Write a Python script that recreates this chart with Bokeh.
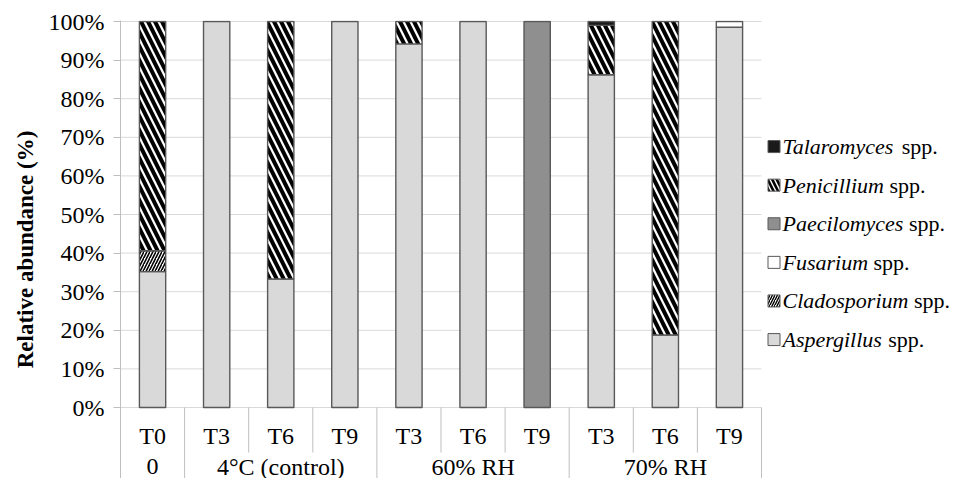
import numpy as np
from bokeh.plotting import figure
from bokeh.models import Range1d, FixedTicker, PrintfTickFormatter, ColumnDataSource
from bokeh.core.properties import value
from bokeh.embed import file_html
from bokeh.resources import INLINE

# ---------------- data ----------------
time_labels = ["T0", "T3", "T6", "T9", "T3", "T6", "T9", "T3", "T6", "T9"]
groups = ["0", "4°C (control)", "60% RH", "70% RH"]
group_sizes = [1, 3, 3, 3]

aspergillus  = [35.2, 100.0, 33.3, 100.0, 94.2, 100.0, 0.0, 86.2, 18.8, 98.5]
cladosporium = [5.4, 0.0, 0.0, 0.0, 0.0, 0.0, 0.0, 0.0, 0.0, 0.0]
fusarium     = [0.0, 0.0, 0.0, 0.0, 0.0, 0.0, 0.0, 0.0, 0.0, 1.5]
paecilomyces = [0.0, 0.0, 0.0, 0.0, 0.0, 0.0, 100.0, 0.0, 0.0, 0.0]
penicillium  = [59.4, 0.0, 66.7, 0.0, 5.8, 0.0, 0.0, 12.8, 81.2, 0.0]
talaromyces  = [0.0, 0.0, 0.0, 0.0, 0.0, 0.0, 0.0, 1.0, 0.0, 0.0]

species_names = ["Aspergillus", "Cladosporium", "Fusarium",
                 "Paecilomyces", "Penicillium", "Talaromyces"]
species_values = [aspergillus, cladosporium, fusarium,
                  paecilomyces, penicillium, talaromyces]

# ---------------- styles ----------------
FONT = "Liberation Serif"
OUTLINE = "#595959"
AXIS_GRAY = "#bfbfbf"
GRID_GRAY = "#d9d9d9"
styles = {
    "Aspergillus":  dict(fill_color="#d9d9d9"),
    "Cladosporium": dict(fill_color="white", hatch_pattern="/", hatch_color="black",
                         hatch_scale=6, hatch_weight=1.6),
    "Fusarium":     dict(fill_color="white"),
    "Paecilomyces": dict(fill_color="#8f8f8f"),
    "Penicillium":  dict(fill_color="white", hatch_pattern="\\", hatch_color="black",
                         hatch_scale=14, hatch_weight=4),
    "Talaromyces":  dict(fill_color="#1a1a1a"),
}
legend_hatch = {"Cladosporium": dict(hatch_scale=5, hatch_weight=1.4),
                "Penicillium": dict(hatch_scale=9, hatch_weight=2.6)}

# ---------------- geometry (pixels) ----------------
W, H = 955, 478
LEFT = 120
TOP = 20
CAT_PX = 64.1
ZERO_TO_HUNDRED = 386
PX = 100.0 / ZERO_TO_HUNDRED
frame_w = W - LEFT
frame_h = H - TOP
y_end = 100 + 1 * PX
y_start = y_end - frame_h * PX
x_end = frame_w / CAT_PX

p = figure(width=W, height=H, output_backend="svg", toolbar_location=None,
           x_range=Range1d(0, x_end), y_range=Range1d(y_start, y_end),
           x_axis_location=None, min_border_left=LEFT, min_border_right=0,
           min_border_top=TOP, min_border_bottom=0)
p.outline_line_color = None
p.xgrid.visible = False
p.ygrid.visible = False
p.background_fill_color = "white"
p.border_fill_color = "white"

n = len(time_labels)
xc = np.arange(n) + 0.5

gy = list(range(0, 101, 10))
p.segment(x0=[0] * len(gy), x1=[n] * len(gy), y0=gy, y1=gy,
          line_color=GRID_GRAY, line_width=1)

cum = np.zeros(n)
for name, vals in zip(species_names, species_values):
    v = np.array(vals, dtype=float)
    mask = v > 0
    src = ColumnDataSource(dict(x=xc[mask], bottom=cum[mask], top=(cum + v)[mask]))
    p.vbar(x="x", bottom="bottom", top="top", width=0.41, source=src,
           line_color=OUTLINE, line_width=1.4, **styles[name])
    cum = cum + v

lbl1_y = -28 * PX
lbl2_y = -59 * PX
inner_bottom = -45 * PX
bounds = np.cumsum([0] + group_sizes)
inner_x = [b for b in range(1, n) if b not in bounds]
p.segment(x0=inner_x, x1=inner_x, y0=[0] * len(inner_x), y1=[inner_bottom] * len(inner_x),
          line_color=AXIS_GRAY, line_width=1)
gx = [int(b) for b in bounds[1:]]
p.segment(x0=gx, x1=gx, y0=[0] * len(gx), y1=[y_start] * len(gx),
          line_color=AXIS_GRAY, line_width=1)

p.text(x=xc, y=[lbl1_y] * n, text=time_labels, text_font=value(FONT),
       text_font_size="24px", text_align="center", text_baseline="middle",
       text_color="black")
gcent = [(bounds[i] + bounds[i + 1]) / 2 for i in range(len(groups))]
p.text(x=gcent, y=[lbl2_y] * len(groups), text=groups, text_font=value(FONT),
       text_font_size="24px", text_align="center", text_baseline="middle",
       text_color="black")

ax = p.yaxis[0]
ax.ticker = FixedTicker(ticks=gy)
ax.formatter = PrintfTickFormatter(format="%d%%")
ax.major_tick_out = 7
ax.major_tick_in = 0
ax.minor_tick_line_color = None
ax.axis_line_color = AXIS_GRAY
ax.major_tick_line_color = AXIS_GRAY
ax.major_label_text_font = FONT
ax.major_label_text_font_size = "24px"
ax.major_label_text_color = "black"
ax.major_label_standoff = 9
ax.axis_label = "Relative abundance (%)"
ax.axis_label_text_font = FONT
ax.axis_label_text_font_size = "23px"
ax.axis_label_text_font_style = "bold"
ax.axis_label_text_color = "black"
ax.axis_label_standoff = 8

# legend (manual: italic genus + upright "spp.")
italic_w = {"A": 611, "C": 667, "F": 611, "P": 611, "T": 556,
            "a": 500, "c": 444, "d": 500, "e": 444, "g": 500, "i": 278, "l": 278,
            "m": 722, "n": 500, "o": 500, "p": 500, "r": 389, "s": 389, "u": 500,
            "y": 444}
LEG_FS = 22
def text_w(s):
    return sum(italic_w.get(c, 500) for c in s) * LEG_FS / 1000.0

leg_order = list(reversed(species_names))
leg_y = [17.6 + 10 * i for i in range(len(leg_order))][::-1]
sq_x = (773.5 - LEFT) / CAT_PX
tx_x = (782 - LEFT) / CAT_PX
for name, y in zip(leg_order, leg_y):
    st = dict(styles[name])
    st.update(legend_hatch.get(name, {}))
    p.rect(x=[sq_x], y=[y], width=12, height=12, width_units="screen",
           height_units="screen", line_color=OUTLINE, line_width=1, **st)
p.text(x=[tx_x] * len(leg_order), y=leg_y, text=leg_order, text_font=value(FONT),
       text_font_style="italic", text_font_size=f"{LEG_FS}px", text_align="left",
       text_baseline="middle", text_color="black")
spp_src = ColumnDataSource(dict(x=[tx_x] * len(leg_order), y=leg_y,
                                t=["spp."] * len(leg_order),
                                xo=[text_w(s) + 0.25 * LEG_FS for s in leg_order]))
p.text(x="x", y="y", text="t", x_offset="xo", source=spp_src, text_font=value(FONT),
       text_font_size=f"{LEG_FS}px", text_align="left", text_baseline="middle",
       text_color="black")

open("out.html", "w").write(file_html(p, INLINE))
